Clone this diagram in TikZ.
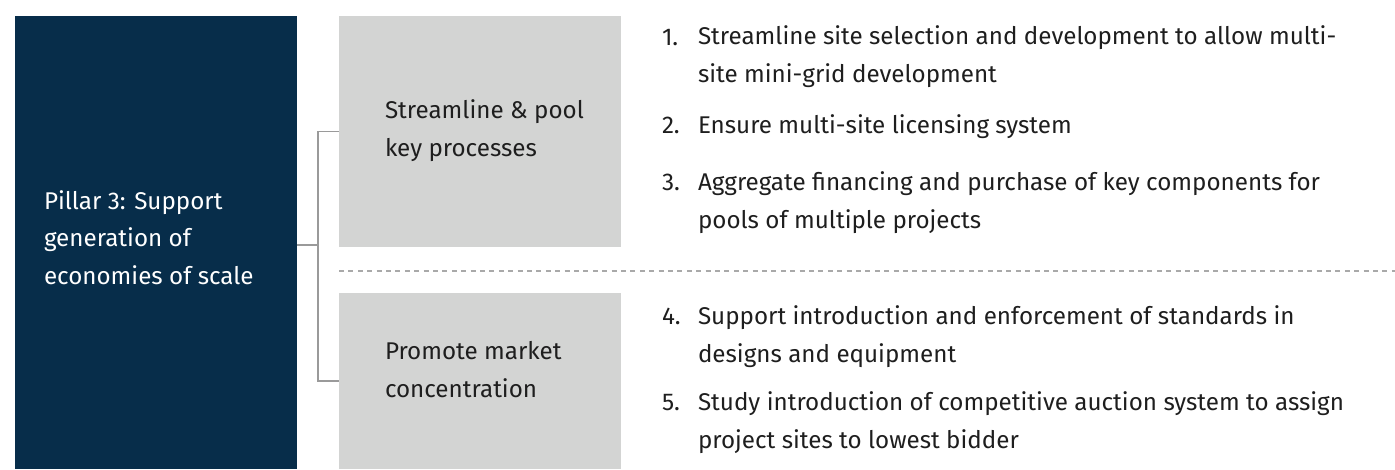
\documentclass[tikz,border=0pt]{standalone}
\usepackage{fontspec}
\setmainfont{Fira Sans}
\usetikzlibrary{positioning}

\definecolor{pillarblue}{HTML}{072D4A}
\definecolor{boxgrey}{HTML}{D3D4D3}
\definecolor{linegrey}{HTML}{9A9A9A}
\definecolor{txtgrey}{HTML}{1E1E1E}

\begin{document}
\begin{tikzpicture}[x=1pt,y=-1pt,
    every node/.style={inner sep=0pt,outer sep=0pt},
    panel/.style={anchor=north west,minimum width=282pt},
    lbl/.style={font=\fontsize{24.2}{37.5}\selectfont,align=left,anchor=base west,text=txtgrey},
    link/.style={draw=linegrey,line width=1.3pt},
    divider/.style={draw=linegrey!85,line width=1.4pt,dash pattern=on 5pt off 4.4pt}]
  \useasboundingbox (0,0) rectangle (1395,469);
  % boxes
  \node[panel,fill=pillarblue,minimum height=453pt] (pillar) at (15,16) {};
  \node[panel,fill=boxgrey,minimum height=231pt] (proc) at (339,16) {};
  \node[panel,fill=boxgrey,minimum height=176pt] (conc) at (339,293) {};
  % labels (base = last line)
  \node[lbl,text=white] (pillartxt) at (44,284)
    {Pillar 3: Support\\generation of\\economies of scale};
  \node[lbl] (proctxt) at (385,156) {Streamline \& pool\\key processes};
  \node[lbl] (conctxt) at (385,397) {Promote market\\concentration};
  % bracket
  \coordinate (fork) at (318,245);
  \draw[link] ([yshift=-2.5pt]pillar.east) -- (fork);
  \draw[link] (proc.west) -| (fork) |- (conc.west);
  \draw[divider] (339,271) -- (1395,271);
  % actions
  \foreach \i/\y/\yl/\txt in {%
      1/45/82/{Streamline site selection and development to allow multi-\\site mini-grid development},
      2/133/133/{Ensure multi-site licensing system},
      3/190/228/{Aggregate financing and purchase of key components for\\pools of multiple projects},
      4/324/362/{Support introduction and enforcement of standards in\\designs and equipment},
      5/410/448/{Study introduction of competitive auction system to assign\\project sites to lowest bidder}} {
    \node[lbl] (num\i) at (662,\y) {\i.};
    \node[lbl] (act\i) at (698,\yl) {\txt};
  }
\end{tikzpicture}
\end{document}
